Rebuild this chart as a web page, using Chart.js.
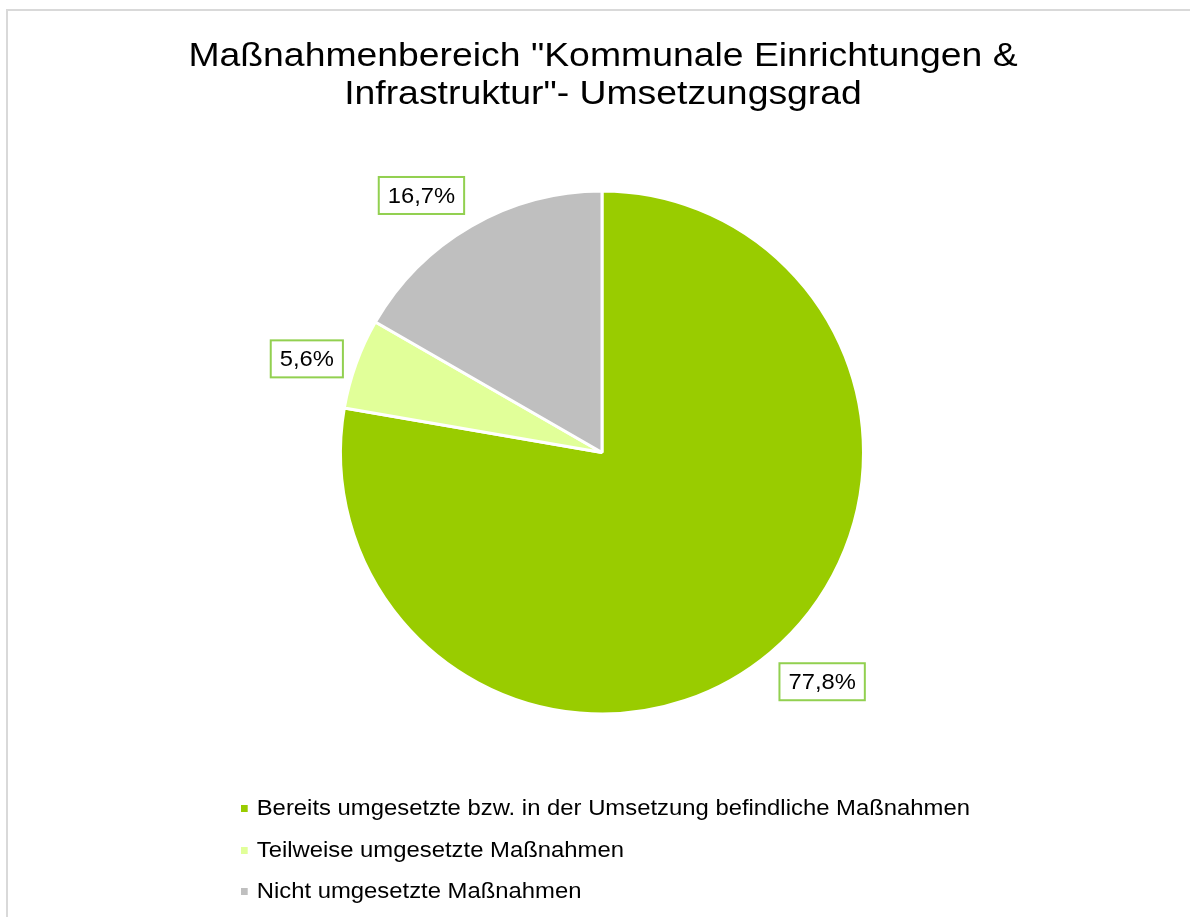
<!DOCTYPE html>
<html lang="de">
<head>
<meta charset="utf-8">
<title>Umsetzungsgrad</title>
<script src="https://cdn.jsdelivr.net/npm/chart.js@4"></script>
<style>
    html, body { margin: 0; padding: 0; background: #fff; overflow: hidden; }
    body { width: 1190px; height: 917px; position: relative; font-family: "Liberation Sans", Arial, sans-serif; color: #000; }
    #frame { position: absolute; left: 6px; top: 9px; width: 1200px; height: 940px; border: 2px solid #d9d9d9; box-sizing: border-box; }
    #title { position: absolute; left: 0; width: 1206px; top: 36px; text-align: center; font-size: 33.5px; line-height: 37.5px; transform: scaleX(1.115); transform-origin: 603px 0; }
    #wrap { position: absolute; left: 0; top: 0; width: 1190px; height: 917px; }
    #legend { position: absolute; left: 241px; top: 788px; font-size: 21.4px; line-height: 41.6px; transform: scaleX(1.115); transform-origin: 0 0; }
    #legend .item { white-space: nowrap; }
    #legend .box { display: inline-block; width: 6.3px; height: 7px; margin-right: 7.8px; vertical-align: 3px; }
</style>
</head>
<body>
<div id="frame"></div>
<div id="wrap"><canvas id="pieChart"></canvas></div>
<div id="title">Maßnahmenbereich "Kommunale Einrichtungen &amp;<br>Infrastruktur"- Umsetzungsgrad</div>
<div id="legend"></div>
<script>
// Daten
const categories = [
    'Bereits umgesetzte bzw. in der Umsetzung befindliche Maßnahmen',
    'Teilweise umgesetzte Maßnahmen',
    'Nicht umgesetzte Maßnahmen'
];
const shares = [77.8, 5.6, 16.7];
const colors = ['#99CC00', '#E1FF99', '#BFBFBF'];

// Legende (vertikal, wie im Original)
const legendEl = document.getElementById('legend');
categories.forEach((name, i) => {
    const row = document.createElement('div');
    row.className = 'item';
    row.innerHTML = '<span class="box" style="background:' + colors[i] + '"></span>' + name;
    legendEl.appendChild(row);
});

// Prozent-Labels mit grünem Rahmen außerhalb der Segmente ("beste Anpassung")
const boxedLabels = {
    id: 'boxedLabels',
    afterDatasetsDraw(chart) {
        const ctx = chart.ctx;
        const meta = chart.getDatasetMeta(0);
        const stretch = 1.08;
        ctx.save();
        ctx.font = '22px "Liberation Sans", Arial, sans-serif';
        ctx.textAlign = 'center';
        ctx.textBaseline = 'middle';
        meta.data.forEach((arc, i) => {
            const p = arc.getProps(['x', 'y', 'startAngle', 'endAngle', 'outerRadius'], true);
            const mid = (p.startAngle + p.endAngle) / 2;
            const cos = Math.cos(mid), sin = Math.sin(mid);
            const text = shares[i].toFixed(1).replace('.', ',') + '%';
            const w = ctx.measureText(text).width * stretch + 18;
            const h = 37;
            // Ankerpunkt auf dem Strahl durch die Segmentmitte
            const d = p.outerRadius + 14;
            const ax = p.x + cos * d;
            const ay = p.y + sin * d;
            // Box je nach Richtung an Ecke oder Kantenmitte ansetzen
            const sx = Math.abs(cos) < 0.38 ? 0 : Math.sign(cos);
            const sy = Math.abs(sin) < 0.38 ? 0 : Math.sign(sin);
            const cx = ax + sx * w / 2;
            const cy = ay + sy * h / 2;
            ctx.fillStyle = '#fff';
            ctx.fillRect(cx - w / 2, cy - h / 2, w, h);
            ctx.strokeStyle = '#92D050';
            ctx.lineWidth = 2;
            ctx.strokeRect(cx - w / 2, cy - h / 2, w, h);
            ctx.fillStyle = '#000';
            ctx.save();
            ctx.translate(cx, cy + 1);
            ctx.scale(stretch, 1);
            ctx.fillText(text, 0, 0);
            ctx.restore();
        });
        ctx.restore();
    }
};

new Chart(document.getElementById('pieChart'), {
    type: 'pie',
    data: {
        labels: categories,
        datasets: [{
            data: shares,
            backgroundColor: colors,
            borderColor: '#FFFFFF',
            borderWidth: 3
        }]
    },
    options: {
        responsive: true,
        maintainAspectRatio: false,
        animation: false,
        layout: { padding: { left: 339, right: 325, top: 188, bottom: 200 } },
        plugins: {
            legend: { display: false },
            title: { display: false },
            tooltip: { enabled: false }
        }
    },
    plugins: [boxedLabels]
});
</script>
</body>
</html>
